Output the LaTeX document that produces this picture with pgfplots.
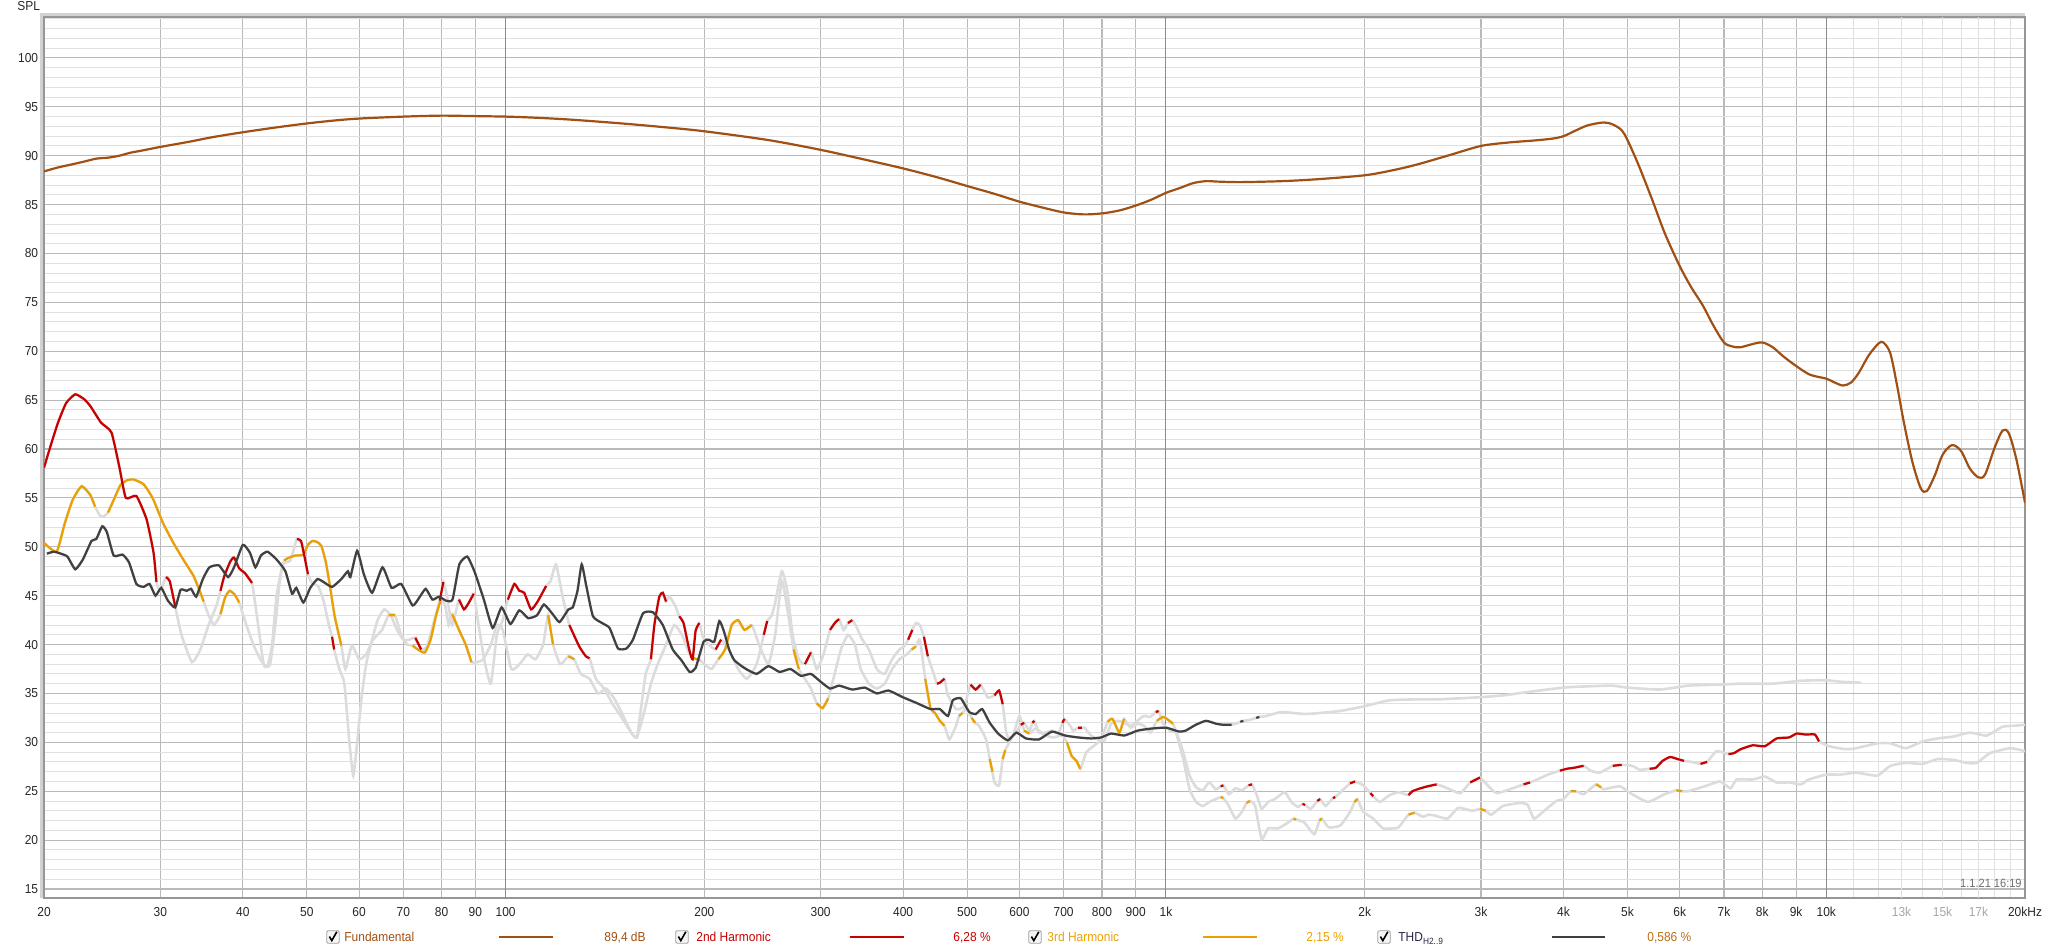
\documentclass[border=0pt]{standalone}
\usepackage{fontspec}
\setmainfont{Liberation Sans}[FakeStretch=0.92]
\usepackage{pgfplots}
\usepackage{pgfplotstable}
\pgfplotsset{compat=1.18}
\definecolor{fundc}{RGB}{160,80,20}
\definecolor{h2c}{RGB}{200,0,0}
\definecolor{h3c}{RGB}{235,160,0}
\definecolor{thdc}{RGB}{64,64,64}
\definecolor{graytr}{RGB}{220,220,220}
\definecolor{gridmaj}{RGB}{185,185,185}
\definecolor{gridmin}{RGB}{224,224,224}
\definecolor{griddark}{RGB}{140,140,140}
\definecolor{framec}{RGB}{150,150,150}
\definecolor{thdtext}{RGB}{40,40,70}
\definecolor{thdval}{RGB}{185,110,20}

\pgfplotstableread{
f v
20 88.4
21 88.8
22 89.1
23 89.4
24 89.7
25 89.8
26 90.0
27 90.3
28 90.5
30 90.9
33 91.4
36 91.9
40 92.4
45 92.9
50 93.3
55 93.6
60 93.8
70 94.0
80 94.1
90 94.05
100 94.0
110 93.9
125 93.7
150 93.3
175 92.9
200 92.5
250 91.6
300 90.6
350 89.6
400 88.7
450 87.8
500 86.9
550 86.1
600 85.3
650 84.7
700 84.2
750 84.0
800 84.1
850 84.4
900 84.9
950 85.5
1000 86.2
1050 86.7
1100 87.2
1150 87.4
1200 87.35
1300 87.3
1500 87.4
1700 87.6
2000 88.0
2200 88.5
2400 89.1
2700 90.1
3000 91.0
3300 91.35
3600 91.55
3850 91.75
4000 92.0
4150 92.5
4350 93.1
4600 93.4
4750 93.2
4900 92.6
5000 91.6
5200 89.0
5450 85.5
5700 82.0
6000 78.7
6250 76.5
6500 74.7
6750 72.6
7000 70.9
7200 70.5
7400 70.4
7700 70.7
8000 70.9
8300 70.4
8600 69.5
9000 68.5
9450 67.6
10000 67.2
10300 66.8
10600 66.5
10900 66.8
11200 67.8
11600 69.6
12000 70.8
12200 70.9
12500 69.8
12800 66.5
13100 62.8
13500 58.7
13900 56.0
14200 55.7
14600 57.3
15000 59.4
15500 60.4
16000 59.8
16500 58.0
17000 57.1
17400 57.4
18000 60.2
18500 61.9
18900 61.6
19400 59.0
20000 54.5
}\fund

\pgfplotstableread{
f v s
20.2 49.3 1
20.7 49.5 1
21.2 49.3 1
21.7 49.0 1
22.3 47.7 1
22.9 48.7 1
23.6 50.6 1
24.0 50.8 1
24.5 52.1 1
24.9 51.5 1
25.5 49.1 1
26.3 49.2 1
26.9 48.4 1
27.6 46.2 1
28.3 45.9 1
28.9 46.2 1
29.5 45.0 1
30.1 45.8 1
30.8 44.5 1
31.6 43.8 1
32.2 45.6 1
32.9 45.5 1
33.4 45.7 1
34.0 44.9 1
34.8 46.7 1
35.6 47.9 1
36.8 48.1 1
38.0 46.9 1
38.8 47.9 1
40.0 50.2 1
41.0 49.4 1
41.8 47.9 1
42.6 49.1 1
43.6 49.5 1
45.0 48.7 1
46.4 47.5 1
47.5 45.2 1
48.2 45.8 1
49.4 44.3 1
50.6 45.8 1
51.9 46.7 1
53.0 46.4 1
54.6 45.9 1
56.4 46.7 1
57.7 47.5 1
58.2 46.9 1
59.6 49.6 1
61.0 47.2 1
62.8 45.3 1
65.1 47.9 1
67.2 45.8 1
69.5 46.2 1
72.3 44.0 1
74.0 44.8 1
75.7 45.7 1
77.5 44.6 1
79.3 44.9 1
81.2 44.5 1
83.1 44.6 1
85.1 48.2 1
87.5 49.0 1
89.8 47.4 1
92.7 44.6 1
95.6 41.7 1
98.6 43.8 1
101.7 42.1 1
104.9 43.5 1
108.2 42.7 1
111.6 43.0 1
114.3 44.1 1
117.9 43.1 1
120.7 42.3 1
124.5 43.6 1
126.4 43.8 1
128.5 45.5 1
130.4 48.2 1
132.5 46.0 1
135.6 42.9 1
140 42.2 1
143.7 41.7 1
148.0 39.6 1
152.4 39.6 1
155.9 40.5 1
161.5 43.2 1
167.2 43.3 1
173.0 42.0 1
179.1 39.5 1
184.6 38.4 1
190 37.2 1
194 37.6 1
199.5 40.3 1
203 40.5 1
207 40.3 1
210.7 42.4 1
214 41.4 1
218 39.5 1
222 38.4 1
230 37.6 1
240 37.0 1
250 37.8 1
260 37.2 1
270 37.5 1
280 36.8 1
290 37.0 1
300 36.2 1
310 35.5 1
320 35.8 1
335 35.4 1
350 35.6 1
365 35.0 1
380 35.3 1
400 34.6 1
420 34.0 1
440 33.4 1
454.6 33.4 1
467.6 32.7 1
475.6 34.3 1
489 34.5 1
503.7 33.1 1
515.3 32.9 1
527 33.4 1
541 32.0 1
557 30.9 1
576.3 30.2 1
593.6 31.0 1
613.7 30.4 1
642.5 30.3 1
672 31.1 1
703 30.7 1
736 30.5 1
770 30.4 1
798 30.5 1
826 30.9 1
865 30.7 1
906 31.2 1
948 31.4 1
1000 31.5 1
1047 31.1 1
1071 31.2 1
1110 31.8 1
1150 32.2 1
1192 31.9 1
1220 31.8 1
1257 31.8 1
1280 31.95 0
1296 32.1 1
1310 32.2 1
1340 32.3 0
1370 32.5 1
1385 32.6 1
1420 32.7 0
1496 33.1 0
1631 32.9 0
1832 33.2 0
2000 33.7 0
2180 34.3 0
2420 34.4 0
2590 34.4 0
2960 34.6 0
3240 34.8 0
3580 35.2 0
4000 35.6 0
4240 35.7 0
4730 35.8 0
5000 35.6 0
5600 35.4 0
6180 35.8 0
6900 35.9 0
7400 36.0 0
8300 36.0 0
9150 36.3 0
10000 36.35 0
10500 36.2 0
11300 36.1 0
}\thd

\pgfplotstableread{
f v s
20 58.1 1
20.5 60.5 1
21.0 62.7 1
21.6 64.7 1
22.3 65.6 1
23.0 65.1 1
23.5 64.4 1
24.4 62.7 1
25.3 61.7 1
26.0 58.2 1
26.6 55.0 1
27.6 55.2 1
28.6 52.8 1
29.3 49.4 1
29.6 46.4 1
30.0 45.5 0
30.6 46.9 1
31.0 46.5 1
31.6 43.9 1
32.3 41.0 0
33.5 38.2 0
34.5 39.5 0
35.5 42.0 0
36.5 44.0 0
37.0 45.5 1
37.5 47.0 1
38.3 48.5 1
38.8 48.9 1
39.5 47.8 1
40.3 47.3 1
41.3 46.3 1
42.2 42.0 0
43.0 38.0 0
43.6 37.8 0
44.3 40.0 0
45.0 45.0 0
46.0 48.2 0
47.2 48.6 0
48.3 50.8 1
49.0 50.6 1
49.6 49.0 1
50.2 47.2 1
51.0 46.2 0
52.0 46.0 0
53.0 44.5 0
54.0 42.0 0
54.6 40.8 1
55.0 39.5 1
56.0 37.5 0
57.0 36.0 0
58.0 30.0 0
58.8 26.6 0
59.6 30.0 0
60.5 34.5 0
61.5 38.0 0
62.5 40.0 0
64.0 42.5 0
65.5 43.6 0
67.0 43.0 0
68.5 41.5 0
70 40.5 0
71.5 40.5 0
73 40.7 1
74.5 39.5 1
76 39.8 0
78 42.5 0
79.5 44.5 1
80.5 46.4 1
81.5 45.0 0
83 42.0 0
85.0 44.6 1
86.5 43.6 1
88.0 44.3 1
89.5 45.2 1
91 42.0 0
93 38.2 0
95 36.0 0
97 41.0 0
99 42.5 0
100.8 44.6 1
103.1 46.2 1
104.9 45.5 1
106.7 45.3 1
109.3 43.6 1
111.8 44.4 1
115.2 46.0 1
117 46.5 0
119.2 48.2 0
122 44.9 0
124.9 42.0 1
129.3 39.8 1
132.3 38.8 1
134 38.6 1
137 36.5 0
141 35.5 0
145 34.0 0
150 32.5 0
155 31.0 0
158 30.5 0
160 33.0 0
163 37.0 0
166 38.5 1
168 42.0 1
170.9 44.9 1
173 45.3 1
175 44.4 1
177 44.9 0
180.6 44.0 0
183.2 42.9 1
186 42.2 1
189.7 39.5 1
192 38.5 1
194 41.4 1
196.5 42.2 1
199 40.8 0
203 40.0 0
208 39.5 1
212 40.5 1
218 39.5 0
225 37.5 0
232 36.5 0
240 38.0 0
246 41.0 1
249 42.4 1
253 43.0 0
256 44.3 0
262 47.5 0
267 45.5 0
272 41.0 0
278 38.5 0
284 38.0 1
290 39.2 1
296 37.5 0
303 39.0 0
310 41.5 1
316 42.3 1
320 42.6 1
325 41.5 0
330 42.2 1
335 42.5 1
340 41.8 0
347 40.5 0
355 39.5 0
365 37.5 0
375 37.0 0
385 38.5 0
395 39.5 0
401 39.8 0
407 40.5 1
413 41.5 1
418 42.2 0
424 42.0 0
430 40.8 1
436 38.8 1
445 37.0 0
450 36.0 1
454.6 36.1 1
462 36.5 1
467 34.9 0
481 33.4 0
495 33.7 0
506 35.9 1
515 35.4 1
524 35.9 1
537 34.6 0
550 34.8 1
559 35.3 1
566 33.9 1
573 31.0 0
580 30.3 0
593 31.0 0
603 31.8 1
610 32.0 1
621 31.2 0
628 32.0 1
632 32.2 1
642 31.0 0
657 31.0 0
672 31.2 0
688 31.0 0
697 32.0 1
702 32.4 1
716 31.7 0
724 31.2 0
736 31.5 1
746 31.5 1
753 31.5 0
770 30.7 0
789 30.3 0
807 30.2 0
826 31.9 0
845 32.2 0
864 32.0 0
884 31.7 0
905 32.2 0
926 32.7 0
947 32.6 0
965 33.1 1
975 33.2 1
991 31.9 0
1014 31.2 0
1037 31.0 0
1062 29.0 0
1086 26.6 0
1111 25.4 0
1137 25.1 0
1163 25.9 0
1190 25.2 0
1210 25.5 1
1222 25.6 1
1245 24.7 0
1274 25.3 0
1303 25.1 0
1334 25.6 1
1350 25.7 1
1373 24.6 0
1396 23.2 0
1428 23.9 0
1462 24.2 0
1513 24.9 0
1549 23.9 0
1584 23.4 0
1610 23.7 1
1625 23.6 1
1657 23.2 0
1695 24.0 1
1712 24.2 1
1745 23.5 0
1790 24.3 1
1805 24.4 1
1858 25.2 0
1900 25.8 1
1934 26.0 1
1990 25.6 0
2040 24.8 1
2060 24.5 1
2107 23.9 0
2181 24.6 0
2250 24.9 0
2330 24.6 1
2362 25.0 1
2430 25.3 1
2490 25.5 1
2570 25.7 1
2670 25.3 0
2790 24.8 0
2890 25.9 1
2990 26.4 1
3080 25.5 0
3170 24.8 0
3350 25.3 0
3480 25.7 1
3560 25.9 1
3650 26.2 0
3790 26.7 0
3950 27.1 1
4050 27.3 1
4150 27.4 1
4290 27.6 1
4400 27.1 0
4540 26.9 0
4750 27.6 1
4900 27.7 1
5080 27.6 0
5220 27.2 0
5400 27.3 1
5520 27.4 1
5650 28.1 1
5800 28.5 1
5950 28.3 1
6090 28.1 1
6250 28.0 0
6450 27.8 1
6600 28.0 1
6820 29.1 0
7110 28.8 1
7250 28.9 1
7420 29.3 1
7740 29.7 1
8070 29.6 1
8410 30.4 1
8780 30.5 1
9020 30.9 1
9300 30.8 1
9610 30.8 1
9750 30.1 1
10100 29.6 0
10700 29.3 0
11100 29.4 0
11950 29.9 0
12500 29.9 0
13200 29.4 0
14000 30.1 0
14750 30.4 0
15600 30.6 0
16500 31.0 0
17500 30.7 0
18500 31.6 0
19300 31.7 0
20000 31.8 0
}\htwo

\pgfplotstableread{
f v s
20 50.4 1
20.9 49.5 1
21.5 52.4 1
22.1 54.8 1
22.8 56.2 1
23.5 55.3 1
23.9 54.1 1
24.3 53.2 0
24.6 53.1 0
25.0 53.5 1
25.5 54.8 1
26.1 56.3 1
26.7 56.8 1
27.3 56.9 1
28.3 56.4 1
29.2 55.0 1
30.3 52.4 1
31.4 50.4 1
32.5 48.7 1
33.7 47.0 1
34.5 45.3 1
34.9 44.4 1
35.5 43.0 0
36.2 42.0 0
37.0 43.1 1
37.6 44.8 1
38.2 45.5 1
38.9 45.1 1
39.5 44.3 1
40.5 42.0 0
41.5 40.0 0
42.5 38.5 0
43.3 37.8 0
44.0 38.0 0
44.8 42.0 0
45.5 46.5 0
46.2 48.6 1
47.0 48.9 1
48.0 49.1 1
49.4 49.2 1
50.2 50.2 1
51.0 50.6 1
51.8 50.5 1
52.6 50.1 1
53.4 48.5 1
54.2 46.0 1
55.1 42.9 1
56.4 39.9 1
57.2 37.5 0
58.5 39.9 0
60 38.5 0
61.5 39.0 0
63 40.5 0
65 41.5 0
66.5 43.0 1
68 43.0 1
69.5 41.0 0
71 40.0 0
72.3 39.9 1
74 39.4 1
75.5 39.2 1
77 40.5 1
78.5 43.0 1
79.8 44.6 1
81 44.0 0
82 42.0 0
83 43.1 1
85 41.5 1
87 40.0 1
88.8 38.2 1
90.5 38.2 0
92.5 38.5 0
95 40.0 0
97 42.0 0
99 41.5 0
102 37.5 0
105 38.0 0
108 39.0 0
111 38.5 0
114 40.0 0
116 43.0 1
118 40.0 1
121 38.0 0
124.5 38.8 1
127 38.5 1
130 37.0 0
134 36.5 0
138 35.0 0
142 35.5 0
146 34.5 0
150 33.0 0
155 31.0 0
158 30.5 0
162 33.0 0
166 36.0 0
170 38.0 0
175 40.0 0
180 42.0 0
185 41.0 0
190 39.0 0
193 38.6 1
197 38.4 1
200 38.0 0
205 37.5 0
210 38.5 1
215 39.5 1
220 42.0 1
225 42.5 1
230 41.5 1
236 42.0 1
242 40.0 0
250 38.0 0
256 41.0 0
262 46.5 0
268 43.0 0
273 39.5 1
278 37.5 1
284 36.5 0
290 35.5 0
296 34.0 1
302 33.5 1
308 34.5 1
315 37.0 0
322 39.5 0
330 41.0 0
338 40.0 0
345 37.5 0
355 36.0 0
365 35.5 0
375 36.0 0
385 37.5 0
395 38.5 0
405 39.0 0
412 39.5 1
418 39.8 1
424 40.5 0
432 36.5 1
440 33.5 1
447 33.0 1
454.6 32.2 1
462 31.7 1
470 30.3 0
481 31.7 0
486 32.7 1
492 33.0 1
498 33.4 0
508 32.5 1
514 32.0 1
521 31.7 0
534 30.3 0
541 28.3 1
546 27.0 1
550 25.9 0
559 25.6 0
566 28.3 1
571 29.2 1
576 29.7 0
587 30.7 0
600 32.7 0
610 31.2 1
621 30.9 1
635 31.4 0
657 30.7 0
676 30.5 0
696 30.7 0
708 30.0 1
720 28.6 1
732 28.1 1
742 27.3 1
758 29.0 0
780 29.7 0
798 30.3 0
816 32.1 1
830 32.4 1
850 31.0 1
864 32.4 1
884 31.5 0
905 31.9 0
926 31.7 0
947 31.0 0
969 32.2 1
990 32.6 1
1003 32.4 1
1025 31.9 1
1037 30.9 0
1062 28.3 0
1086 25.2 0
1111 23.9 0
1137 23.5 0
1163 23.9 0
1190 24.2 0
1210 24.4 1
1222 24.3 1
1245 23.5 0
1274 22.2 0
1303 22.9 0
1325 23.8 1
1340 24.0 1
1365 23.5 0
1396 20.1 0
1428 21.2 0
1479 21.2 0
1531 21.8 0
1560 22.2 1
1575 22.1 1
1620 21.8 0
1677 20.6 0
1708 22.0 1
1722 22.2 1
1765 21.3 0
1837 21.5 0
1901 22.9 0
1930 23.9 1
1950 24.2 1
1990 22.9 0
2060 22.2 0
2131 21.2 0
2206 21.2 0
2250 21.3 0
2330 22.6 1
2380 22.8 1
2450 22.4 0
2500 22.6 0
2560 22.5 0
2670 22.2 0
2770 23.3 0
2910 23.0 0
2990 23.2 1
3050 23.0 1
3110 22.6 0
3240 23.5 0
3440 23.8 0
3530 23.6 0
3610 22.2 0
3740 23.0 0
3900 24.0 0
4000 24.2 0
4100 25.0 1
4180 25.0 1
4290 24.7 0
4480 25.7 1
4560 25.4 1
4600 25.2 0
4870 25.5 0
5080 24.7 0
5370 23.9 0
5690 24.7 0
5930 25.1 1
6050 25.0 1
6180 25.0 0
6540 25.5 0
6900 26.0 0
7160 25.3 0
7320 26.2 0
7740 26.2 0
8070 26.5 0
8410 25.9 0
8780 25.9 0
9150 25.7 0
9410 26.2 0
10000 26.7 0
10500 26.7 0
11100 26.9 0
11950 26.6 0
12500 27.6 0
13200 27.9 0
14000 27.8 0
14750 28.3 0
15600 28.2 0
16300 27.9 0
16900 27.9 0
17700 28.9 0
19000 29.4 0
20000 29.1 0
}\hthree

\newcommand{\cbox}[1]{%
  \draw[draw=gray!75, fill=gray!8, rounded corners=0.6pt] (#1-3.1,3.9) rectangle (#1+3.1,10.1);
  \draw[black, line width=0.8pt] (#1-1.8,7.2) -- (#1-0.6,5.2) -- (#1+1.9,9.6);
}

\begin{document}
\begin{tikzpicture}[x=1pt,y=1pt,font=\fontsize{6.5}{7.5}\selectfont]
\useasboundingbox (0,0) rectangle (1024,475.5);
\begin{axis}[
  at={(22pt,26.5pt)}, anchor=south west, scale only axis,
  width=990.5pt, height=440.5pt,
  xmode=log, xmin=20, xmax=20000, ymin=14.08, ymax=104.19,
  xtick={20,30,40,50,60,70,80,90,100,200,300,400,500,600,700,800,900,1000,2000,3000,4000,5000,6000,7000,8000,9000,10000,20000},
  xticklabels={20,30,40,50,60,70,80,90,100,200,300,400,500,600,700,800,900,1k,2k,3k,4k,5k,6k,7k,8k,9k,10k,20kHz},
  extra x ticks={13000,15000,17000},
  extra x tick labels={13k,15k,17k},
  extra x tick style={grid=major, major grid style={draw=gridmin, line width=0.5pt}, tick label style={text=gray!70}},
  minor xtick={11000,12000,14000,16000,18000,19000},
  ytick={15,20,...,100},
  minor ytick={14,15,...,104},
  grid=both,
  major grid style={draw=gridmaj, line width=0.55pt},
  minor grid style={draw=gridmin, line width=0.5pt},
  major tick length=0pt, minor tick length=0pt,
  axis line style={draw=framec, line width=0.8pt},
  tick label style={font=\fontsize{6.5}{7.5}\selectfont, text=black!85},
  xticklabel style={anchor=north, inner sep=0pt, yshift=-4.5pt},
  yticklabel style={anchor=east, inner sep=0pt, xshift=-2.75pt},
  /pgf/number format/assume math mode=true,
  unbounded coords=jump, filter discard warning=false,
]
\draw[griddark, line width=0.55pt] (axis cs:100,14.08) -- (axis cs:100,104.19);
\draw[griddark, line width=0.55pt] (axis cs:1000,14.08) -- (axis cs:1000,104.19);
\draw[griddark, line width=0.55pt] (axis cs:10000,14.08) -- (axis cs:10000,104.19);
\addplot[graytr, line width=1.3pt, smooth, tension=0.3] table[x=f,y=v]{\htwo};
\addplot[graytr, line width=1.3pt, smooth, tension=0.3] table[x=f,y=v]{\hthree};
\addplot[graytr, line width=1.3pt, smooth, tension=0.3] table[x=f,y=v]{\thd};
\addplot[h3c, line width=1.1pt, smooth, tension=0.3, restrict expr to domain={\thisrow{s}}{0.5:1.5}] table[x=f,y=v]{\hthree};
\addplot[h2c, line width=1.1pt, smooth, tension=0.3, restrict expr to domain={\thisrow{s}}{0.5:1.5}] table[x=f,y=v]{\htwo};
\addplot[thdc, line width=1.1pt, smooth, tension=0.3, restrict expr to domain={\thisrow{s}}{0.5:1.5}] table[x=f,y=v]{\thd};
\addplot[fundc, line width=1.1pt, smooth, tension=0.5] table[x=f,y=v]{\fund};
\end{axis}
% frame shading
\draw[gray!35, line width=1.4pt] (20.9,26.5) -- (20.9,468.1) -- (1012.5,468.1);
% labels
\node[anchor=base west, inner sep=0pt, text=black!85] at (8.5,470) {SPL};
\node[anchor=base east, inner sep=0pt, text=gray!85!black, font=\fontsize{6}{7}\selectfont] at (1011,31.5) {1.1.21 16:19};
% legend
\cbox{166.5}
\node[anchor=base west, inner sep=0pt, text=fundc] at (172,4.6) {Fundamental};
\draw[fundc, line width=1.1pt] (249.5,7) -- (276.5,7);
\node[anchor=base west, inner sep=0pt, text=fundc] at (302,4.6) {89,4 dB};
\cbox{341}
\node[anchor=base west, inner sep=0pt, text=h2c] at (348,4.6) {2nd Harmonic};
\draw[h2c, line width=1.1pt] (425,7) -- (452,7);
\node[anchor=base west, inner sep=0pt, text=h2c] at (476.5,4.6) {6,28 \%};
\cbox{517.5}
\node[anchor=base west, inner sep=0pt, text=h3c] at (523.5,4.6) {3rd Harmonic};
\draw[h3c, line width=1.1pt] (601.5,7) -- (628.5,7);
\node[anchor=base west, inner sep=0pt, text=h3c] at (653,4.6) {2,15 \%};
\cbox{692}
\node[anchor=base west, inner sep=0pt, text=thdtext] at (699,4.6) {THD\textsubscript{H2..9}};
\draw[thdc, line width=1.1pt] (776,7) -- (802.5,7);
\node[anchor=base west, inner sep=0pt, text=thdval] at (823.5,4.6) {0,586 \%};
\end{tikzpicture}
\end{document}
